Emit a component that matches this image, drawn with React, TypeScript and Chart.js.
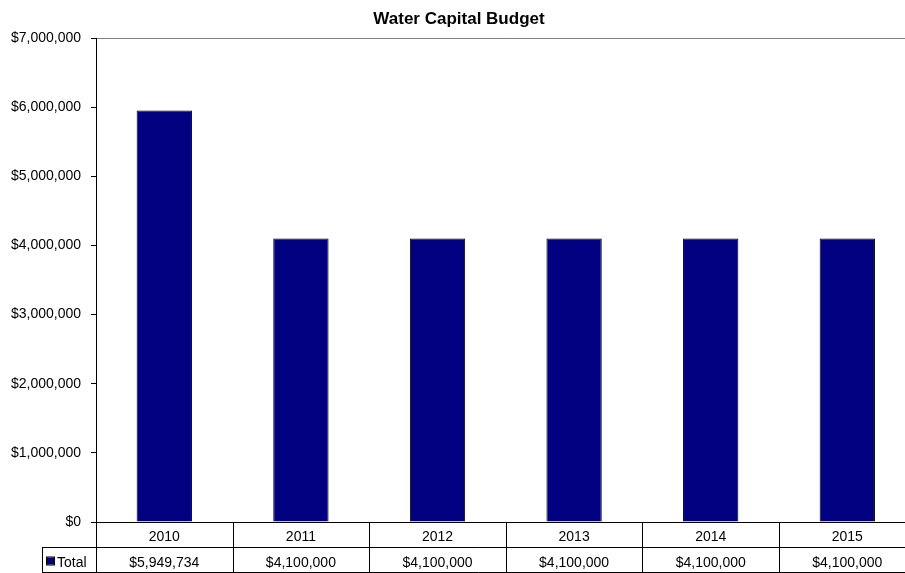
import React, { useEffect, useRef } from "react";
import { Chart, registerables } from "chart.js";

Chart.register(...registerables);

const categories = ["2010", "2011", "2012", "2013", "2014", "2015"];
const totals = [5949734, 4100000, 4100000, 4100000, 4100000, 4100000];
const seriesName = "Total";
const chartTitle = "Water Capital Budget";
const yMax = 7000000;
const yStep = 1000000;

const FONT = "'Liberation Sans', Arial, sans-serif";
const fmt = (v: number) => "$" + Math.round(v).toLocaleString("en-US");

const tablePlugin = {
  id: "dataTable",
  afterDraw(chart: any) {
    const ctx = chart.ctx as CanvasRenderingContext2D;
    const area = chart.chartArea;
    const x = chart.scales.x;
    const left = area.left;
    const right = area.right;
    const top = area.top;
    const bottom = area.bottom;
    const rowH = 25;
    const legendLeft = 42;
    ctx.save();
    // top plot border (gray)
    ctx.strokeStyle = "#808080";
    ctx.lineWidth = 1;
    ctx.beginPath();
    ctx.moveTo(left, Math.round(top) + 0.5);
    ctx.lineTo(right, Math.round(top) + 0.5);
    ctx.stroke();

    ctx.strokeStyle = "#000";
    ctx.beginPath();
    const yb = Math.round(bottom) + 0.5;
    ctx.moveTo(left, yb);
    ctx.lineTo(right, yb);
    ctx.moveTo(legendLeft, yb + rowH);
    ctx.lineTo(right, yb + rowH);
    ctx.moveTo(legendLeft, yb + 2 * rowH);
    ctx.lineTo(right, yb + 2 * rowH);
    // axis line extended through table
    const xl = Math.round(left) + 0.5;
    ctx.moveTo(xl, top);
    ctx.lineTo(xl, yb + 2 * rowH);
    ctx.moveTo(legendLeft + 0.5, yb + rowH);
    ctx.lineTo(legendLeft + 0.5, yb + 2 * rowH);
    const n = categories.length;
    const w = (right - left) / n;
    for (let i = 1; i <= n; i++) {
      const xx = Math.round(left + i * w) + 0.5;
      ctx.moveTo(xx, yb);
      ctx.lineTo(xx, yb + 2 * rowH);
    }
    ctx.stroke();

    ctx.fillStyle = "#000";
    ctx.font = "14px " + FONT;
    ctx.textAlign = "center";
    ctx.textBaseline = "alphabetic";
    categories.forEach((c, i) => {
      const cx = x.getPixelForValue(i);
      ctx.fillText(c, cx, yb + 18);
      ctx.fillText(fmt(totals[i]), cx, yb + rowH + 19);
    });

    // legend key
    ctx.fillStyle = "#000080";
    ctx.fillRect(47, yb + rowH + 10, 7, 7);
    ctx.strokeStyle = "#000";
    ctx.strokeRect(46.5, yb + rowH + 9.5, 8, 8);
    ctx.fillStyle = "#000";
    ctx.textAlign = "left";
    ctx.fillText(seriesName, 57, yb + rowH + 19);

    // title
    ctx.font = "bold 17px " + FONT;
    ctx.textAlign = "center";
    ctx.fillText(chartTitle, chart.width / 2, 24);
    ctx.restore();
  },
};

export default function App() {
  const ref = useRef<HTMLCanvasElement | null>(null);
  useEffect(() => {
    if (!ref.current) return;
    const chart = new Chart(ref.current, {
      type: "bar",
      data: {
        labels: categories,
        datasets: [
          {
            label: seriesName,
            data: totals,
            backgroundColor: "#000080",
            borderColor: "#000000",
            borderWidth: 1,
            categoryPercentage: 1,
            barPercentage: 0.405,
          },
        ],
      },
      options: {
        responsive: false,
        animation: false,
        devicePixelRatio: 1,
        layout: { padding: { top: 38, bottom: 51, left: 0, right: 2.4 } },
        plugins: {
          legend: { display: false },
          title: { display: false },
          tooltip: { enabled: false },
        },
        scales: {
          x: { display: false },
          y: {
            min: 0,
            max: yMax,
            afterFit(scale: any) {
              scale.width = 96;
            },
            ticks: {
              stepSize: yStep,
              color: "#000",
              padding: 10,
              font: { family: FONT, size: 14 },
              callback: (v: any) => fmt(Number(v)),
            },
            grid: {
              drawOnChartArea: false,
              drawTicks: true,
              tickLength: 5,
              color: "#000",
            },
            border: { display: true, color: "#000", width: 1 },
          },
        },
      },
      plugins: [tablePlugin],
    });
    return () => chart.destroy();
  }, []);
  return (
    <div
      style={{
        position: "absolute",
        left: 0,
        top: 0,
        width: 905,
        height: 573,
        overflow: "hidden",
        background: "#fff",
      }}
    >
      <canvas ref={ref} width={918} height={573} style={{ display: "block" }} />
    </div>
  );
}
